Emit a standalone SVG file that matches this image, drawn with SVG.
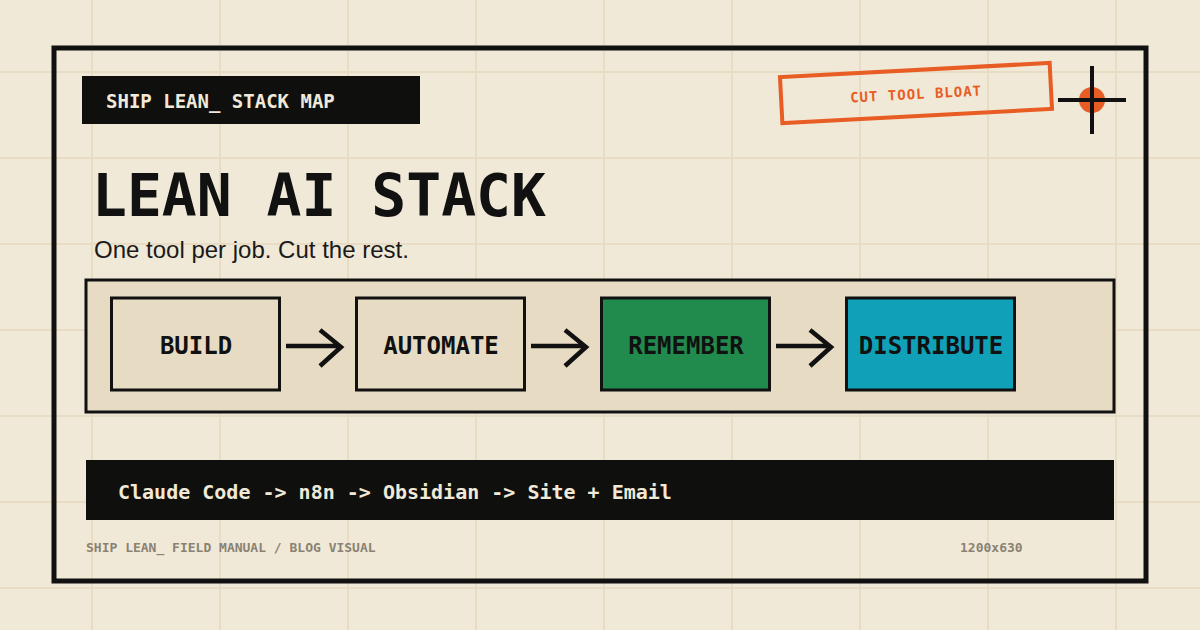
<svg xmlns="http://www.w3.org/2000/svg" width="1200" height="630" viewBox="0 0 1200 630">
<defs>
<style>
.mono{font-family:"DejaVu Sans Mono","Liberation Mono",monospace;font-weight:bold}
.grid{stroke:#e8dcc4;stroke-width:2}
.node{stroke:#111;stroke-width:3}
.lbl{font-size:24px;fill:#111;text-anchor:middle}
.arr{fill:none;stroke:#111;stroke-width:4.5}
</style>
</defs>
<rect width="1200" height="630" fill="#f1e9d8"/>
<g class="grid">
<line x1="92" y1="0" x2="92" y2="630"/><line x1="220" y1="0" x2="220" y2="630"/><line x1="348" y1="0" x2="348" y2="630"/><line x1="476" y1="0" x2="476" y2="630"/><line x1="604" y1="0" x2="604" y2="630"/><line x1="732" y1="0" x2="732" y2="630"/><line x1="860" y1="0" x2="860" y2="630"/><line x1="988" y1="0" x2="988" y2="630"/><line x1="1116" y1="0" x2="1116" y2="630"/>
<line x1="0" y1="72" x2="1200" y2="72"/><line x1="0" y1="158" x2="1200" y2="158"/><line x1="0" y1="244" x2="1200" y2="244"/><line x1="0" y1="330" x2="1200" y2="330"/><line x1="0" y1="416" x2="1200" y2="416"/><line x1="0" y1="502" x2="1200" y2="502"/><line x1="0" y1="588" x2="1200" y2="588"/>
</g>
<rect x="54" y="48" width="1092" height="533" fill="none" stroke="#111" stroke-width="5"/>
<g id="tag"><rect x="82" y="76" width="338" height="48" fill="#0f0f0d"/><text class="mono" x="106" y="108" font-size="19" fill="#f1e9d8">SHIP LEAN_ STACK MAP</text></g>
<g id="stamp" transform="rotate(-3 916 93)"><rect x="781" y="70" width="270" height="46" fill="none" stroke="#e85d24" stroke-width="4"/><text class="mono" x="916" y="99" font-size="14" fill="#e85d24" text-anchor="middle" letter-spacing="1">CUT TOOL BLOAT</text></g>
<g id="crosshair"><circle cx="1092" cy="100" r="13" fill="#e85d24"/><path d="M1058 100H1126M1092 66V134" stroke="#111" stroke-width="4"/></g>
<text class="mono" x="92" y="216" font-size="58" fill="#111">LEAN AI STACK</text>
<text x="94" y="258" font-family="Liberation Sans,Arial,sans-serif" font-size="24" fill="#1a1a1a">One tool per job. Cut the rest.</text>
<rect x="86" y="280" width="1028" height="132" fill="#e7dcc3" stroke="#111" stroke-width="3"/>
<g id="build"><rect class="node" x="111.5" y="298" width="168" height="92" fill="#e7dcc3"/><text class="mono lbl" x="196" y="354">BUILD</text></g>
<g id="automate"><rect class="node" x="356.5" y="298" width="168" height="92" fill="#e7dcc3"/><text class="mono lbl" x="441" y="354">AUTOMATE</text></g>
<g id="remember"><rect class="node" x="601.5" y="298" width="168" height="92" fill="#218b4e"/><text class="mono lbl" x="686" y="354">REMEMBER</text></g>
<g id="distribute"><rect class="node" x="846.5" y="298" width="168" height="92" fill="#10a0b8"/><text class="mono lbl" x="931" y="354">DISTRIBUTE</text></g>
<g id="connectors">
<path class="arr" d="M286 346H340M320 330L341 347L320 366"/>
<path class="arr" d="M531 346H585M565 330L586 347L565 366"/>
<path class="arr" d="M776 346H830M810 330L831 347L810 366"/>
</g>
<g id="footerbar"><rect x="86" y="460" width="1028" height="60" fill="#0f0f0d"/><text class="mono" x="118" y="499" font-size="20" fill="#f1e9d8">Claude Code -&gt; n8n -&gt; Obsidian -&gt; Site + Email</text></g>
<text class="mono" x="86" y="552" font-size="13" fill="#8a8272">SHIP LEAN_ FIELD MANUAL / BLOG VISUAL</text>
<text class="mono" x="960" y="552" font-size="13" fill="#8a8272">1200x630</text>
</svg>
